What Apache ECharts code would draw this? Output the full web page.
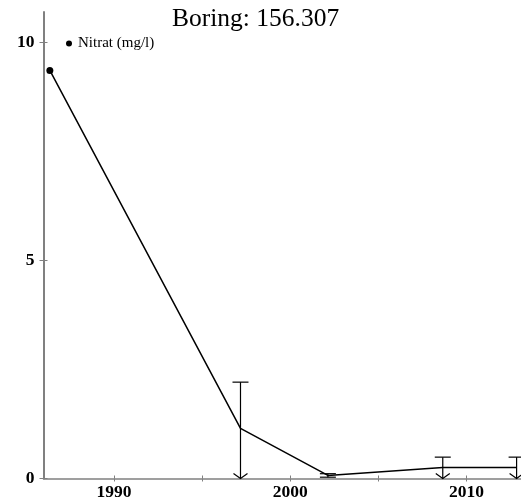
<!DOCTYPE html>
<html>
<head>
<meta charset="utf-8">
<script src="https://cdn.jsdelivr.net/npm/echarts@6/dist/echarts.min.js"></script>
<style>html,body{margin:0;padding:0;background:#fff}#c{width:521px;height:503px}</style>
</head>
<body>
<div id="c"></div>
<script>
// ---- data ----
var title = 'Boring: 156.307';
var seriesName = 'Nitrat (mg/l)';
var years  = [1986.36, 1997.18, 2002.14, 2008.66, 2012.85];
var values = [9.36, 1.15, 0.07, 0.25, 0.25];
var upper  = [null, 2.21, 0.11, 0.49, 0.49];
var lower  = [null, 0, 0.03, 0, 0];   // 0 => bound below axis, drawn as arrow
var xTicks = [1990, 2000, 2010];
var yTicks = [0, 5, 10];

var xMin = 1986.0, xMax = 2013.1, yMin = 0, yMax = 10.7;

var serif = '"Liberation Serif","Times New Roman",serif';
var chart = echarts.init(document.getElementById('c'));

var lineData = years.map(function (y, i) {
  var d = { value: [y, values[i]] };
  if (upper[i] !== null) d.symbol = 'none';
  return d;
});
var errData = [];
years.forEach(function (y, i) {
  if (upper[i] !== null) errData.push([y, values[i], upper[i], lower[i]]);
});

function xAxisBase(inside) {
  return {
    type: 'value', min: xMin, max: xMax, interval: 5, position: 'bottom',
    axisLine: { show: !inside, lineStyle: { color: '#808080', width: 1.5 } },
    axisTick: { show: true, inside: inside, length: 3, lineStyle: { color: '#808080', width: 1 },
      customValues: [1990, 1995, 2000, 2005, 2010] },
    axisLabel: { show: !inside, margin: 5, color: '#000', fontFamily: serif, fontWeight: 'bold', fontSize: 17.5,
      customValues: xTicks, formatter: function (v) { return String(Math.round(v)); } },
    splitLine: { show: false }
  };
}
function yAxisBase(inside) {
  return {
    type: 'value', min: yMin, max: yMax, position: 'left',
    axisLine: { show: !inside, lineStyle: { color: '#808080', width: 2 } },
    axisTick: { show: true, inside: inside, length: 4, lineStyle: { color: '#808080', width: 1 }, customValues: yTicks },
    axisLabel: { show: !inside, margin: 9, color: '#000', fontFamily: serif, fontWeight: 'bold', fontSize: 17.5, customValues: yTicks },
    splitLine: { show: false }
  };
}

chart.setOption({
  animation: false,
  backgroundColor: '#fff',
  title: {
    text: title, left: 172, top: 6, padding: 0,
    textStyle: { fontFamily: serif, fontWeight: 'normal', fontSize: 25.5, color: '#000' }
  },
  legend: {
    left: 66, top: 36, padding: 0, itemWidth: 6, itemHeight: 6, itemGap: 4,
    data: [{ name: seriesName, icon: 'circle' }],
    textStyle: { fontFamily: serif, fontSize: 15, color: '#000', padding: [0, 0, 0, 1] }
  },
  grid: { left: 43.5, right: 0, top: 12, bottom: 24.5, containLabel: false },
  xAxis: [xAxisBase(false), xAxisBase(true)],
  yAxis: [yAxisBase(false), yAxisBase(true)],
  series: [
    {
      name: seriesName, type: 'line', xAxisIndex: 0, yAxisIndex: 0,
      data: lineData, symbol: 'circle', symbolSize: 7, showAllSymbol: true,
      lineStyle: { color: '#000', width: 1.5 }, itemStyle: { color: '#000' },
      clip: false, z: 3
    },
    {
      type: 'custom', xAxisIndex: 0, yAxisIndex: 0, data: errData, z: 2, clip: false,
      renderItem: function (params, api) {
        var x = api.value(0), up = api.value(2), lo = api.value(3);
        var pTop = api.coord([x, up]);
        var pBot = api.coord([x, lo]);
        var cw = 8;
        var st = { stroke: '#000', lineWidth: 1.2, fill: null };
        var children = [
          { type: 'line', shape: { x1: pTop[0], y1: pTop[1], x2: pBot[0], y2: pBot[1] }, style: st },
          { type: 'line', shape: { x1: pTop[0] - cw, y1: pTop[1], x2: pTop[0] + cw, y2: pTop[1] }, style: st }
        ];
        if (lo <= 0) {
          children.push({ type: 'polyline', shape: { points: [[pBot[0] - 7, pBot[1] - 5], [pBot[0], pBot[1]], [pBot[0] + 7, pBot[1] - 5]] }, style: st });
        } else {
          children.push({ type: 'line', shape: { x1: pBot[0] - cw, y1: pBot[1], x2: pBot[0] + cw, y2: pBot[1] }, style: st });
        }
        return { type: 'group', children: children };
      }
    }
  ]
});
</script>
</body>
</html>
